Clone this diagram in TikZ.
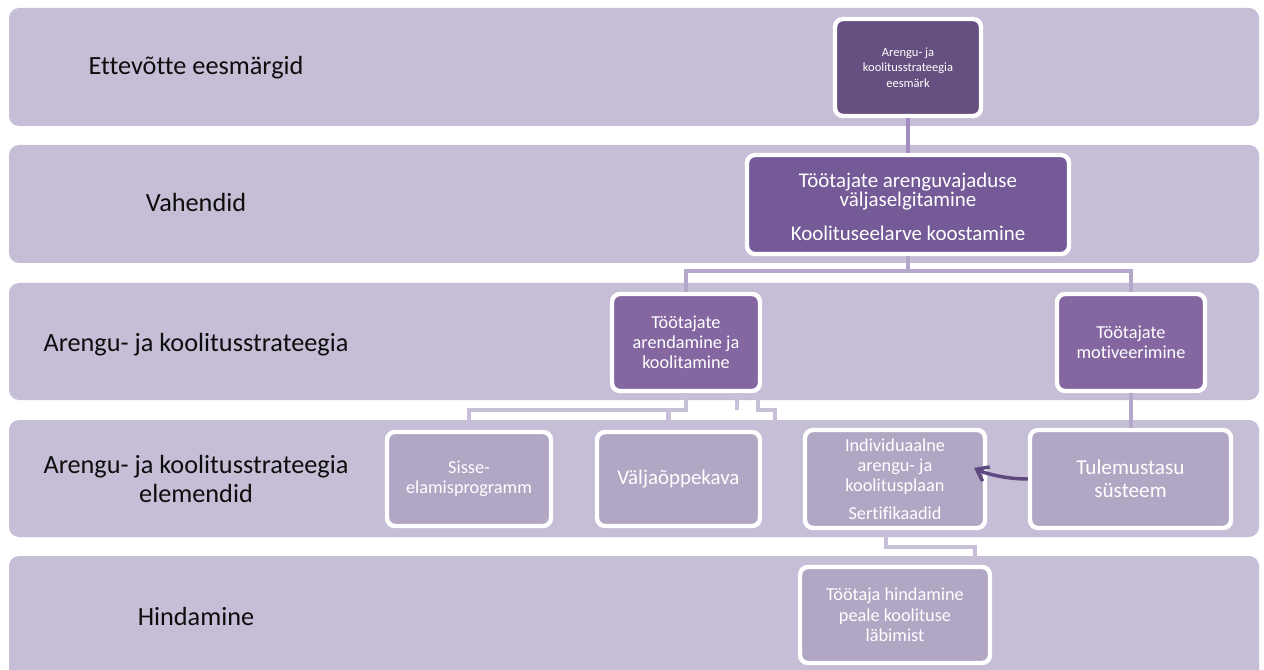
\documentclass[tikz,border=0pt]{standalone}
\usepackage{fontspec}
\setmainfont{Carlito}[Ligatures=NoCommon]
\usetikzlibrary{positioning, arrows.meta}
\definecolor{ksband}{HTML}{C6BED6}
\definecolor{ksdark}{HTML}{654F80}
\definecolor{ksmid}{HTML}{745A96}
\definecolor{kslight}{HTML}{8467A1}
\definecolor{kspale}{HTML}{B1A6C4}
\definecolor{kslinktop}{HTML}{A18DBF}
\definecolor{kslinkmid}{HTML}{B3A7CA}
\definecolor{kslinkpale}{HTML}{C8C0D9}
\definecolor{ksarrow}{HTML}{5E4880}
\definecolor{kstext}{HTML}{0D0D0D}
\tikzset{
  ksbox/.style={draw=white, line width=3.3pt, rounded corners=6pt, text=white,
                align=center, inner sep=0pt},
  bandtext/.style={text=kstext, font=\fontsize{19.7}{21.75}\selectfont,
                   align=center, inner sep=0pt},
  linktop/.style={draw=kslinktop, line width=3pt},
  linkmid/.style={draw=kslinkmid, line width=3pt},
  linkpale/.style={draw=kslinkpale, line width=3.4pt},
  ksarrowline/.style={draw=ksarrow, line width=2.6pt,
                      -{Straight Barb[length=8pt, width=12pt]}}
}
\begin{document}
\begin{tikzpicture}[x=0.75pt, y=-0.75pt]
  \useasboundingbox (0,0) rectangle (1264,670);
  \fill[white] (0,0) rectangle (1264,670);
  \foreach \ytop/\ybot in {8/126, 145/263, 283/400, 420/537, 556/700}
    \fill[ksband, rounded corners=7.5pt] (9,\ytop) rectangle (1259,\ybot);

  \node[bandtext, anchor=base] (l1) at (196,75) {Ettevõtte eesmärgid};
  \node[bandtext, anchor=base] (l2) at (196,212) {Vahendid};
  \node[bandtext, anchor=base] (l3) at (196,352) {Arengu- ja koolitusstrateegia};
  \node[bandtext] (l4) at (196,478.5) {Arengu- ja koolitusstrateegia\\elemendid};
  \node[bandtext, anchor=base] (l5) at (196,625) {Hindamine};

  \node[ksbox, fill=ksdark, minimum width=109.5pt, minimum height=72.75pt,
        font=\fontsize{9.4}{11.6}\selectfont] (eesm) at (908,67.5)
        {Arengu- ja\\koolitusstrateegia\\eesmärk};
  \node[ksbox, fill=ksmid, minimum width=241.5pt, minimum height=74.25pt,
        font=\fontsize{15.7}{14.6}\selectfont] (vahend) at (908,204.5)
        {\rule{0pt}{14pt}Töötajate arenguvajaduse\\väljaselgitamine\\[10.5pt]Koolituseelarve koostamine};
  \node[ksbox, fill=kslight, minimum width=111pt, minimum height=72.75pt,
        font=\fontsize{13.7}{15.2}\selectfont] (arend) at (686,342.5)
        {Töötajate\\arendamine ja\\koolitamine};
  \node[ksbox, fill=kslight, minimum width=111pt, minimum height=72.75pt,
        font=\fontsize{13.7}{15.2}\selectfont] (motiv) at (1131,342.5)
        {Töötajate\\motiveerimine};
  \node[ksbox, fill=kspale, minimum width=123pt, minimum height=70.5pt,
        font=\fontsize{13.7}{15}\selectfont] (sisse) at (469,479)
        {Sisse-\\elamisprogramm};
  \node[ksbox, fill=kspale, minimum width=122.25pt, minimum height=70.5pt,
        font=\fontsize{15.7}{17}\selectfont] (valja) at (678.5,479)
        {Väljaõppekava};
  \node[ksbox, fill=kspale, minimum width=135pt, minimum height=73.5pt,
        font=\fontsize{13.7}{15}\selectfont] (indiv) at (895,479)
        {Individuaalne\\arengu- ja\\koolitusplaan\\[6pt]Sertifikaadid};
  \node[ksbox, fill=kspale, minimum width=150.75pt, minimum height=73.5pt,
        font=\fontsize{15.9}{17.5}\selectfont] (tulem) at (1130.5,479)
        {Tulemustasu\\süsteem};
  \node[ksbox, fill=kspale, minimum width=142.5pt, minimum height=72pt,
        font=\fontsize{13.7}{15.4}\selectfont] (hind) at (895,615)
        {Töötaja hindamine\\peale koolituse\\läbimist};

  \draw[linktop] (eesm.south) -- (vahend.north);
  \draw[linkmid] (vahend.south) -- ++(0,15) -| (arend.north);
  \draw[linkmid] (vahend.south) ++(0,15) -| (motiv.north);
  \draw[linkpale] (arend.south) -- ++(0,17) -| (sisse.north);
  \draw[linkpale] (arend.south) ++(0,17) -| ([xshift=-7.5pt]valja.north);
  \draw[linkpale] (arend.south) ++(51,0) -- ++(0,17);
  \draw[linkpale] (arend.south) ++(72,0) -- ++(0,17) -- ++(17,0) -- ++(0,18);
  \draw[linkmid] (motiv.south) -- (motiv.south |- tulem.north);
  \draw[linkpale] ([xshift=-6.75pt]indiv.south) -- ++(0,17) -| ([xshift=60pt]hind.north);

  \coordinate (indivtip) at (974,468);
  \draw[ksarrowline] (tulem.west) .. controls +(-24,0) and +(10,5) .. (indivtip);
\end{tikzpicture}
\end{document}
